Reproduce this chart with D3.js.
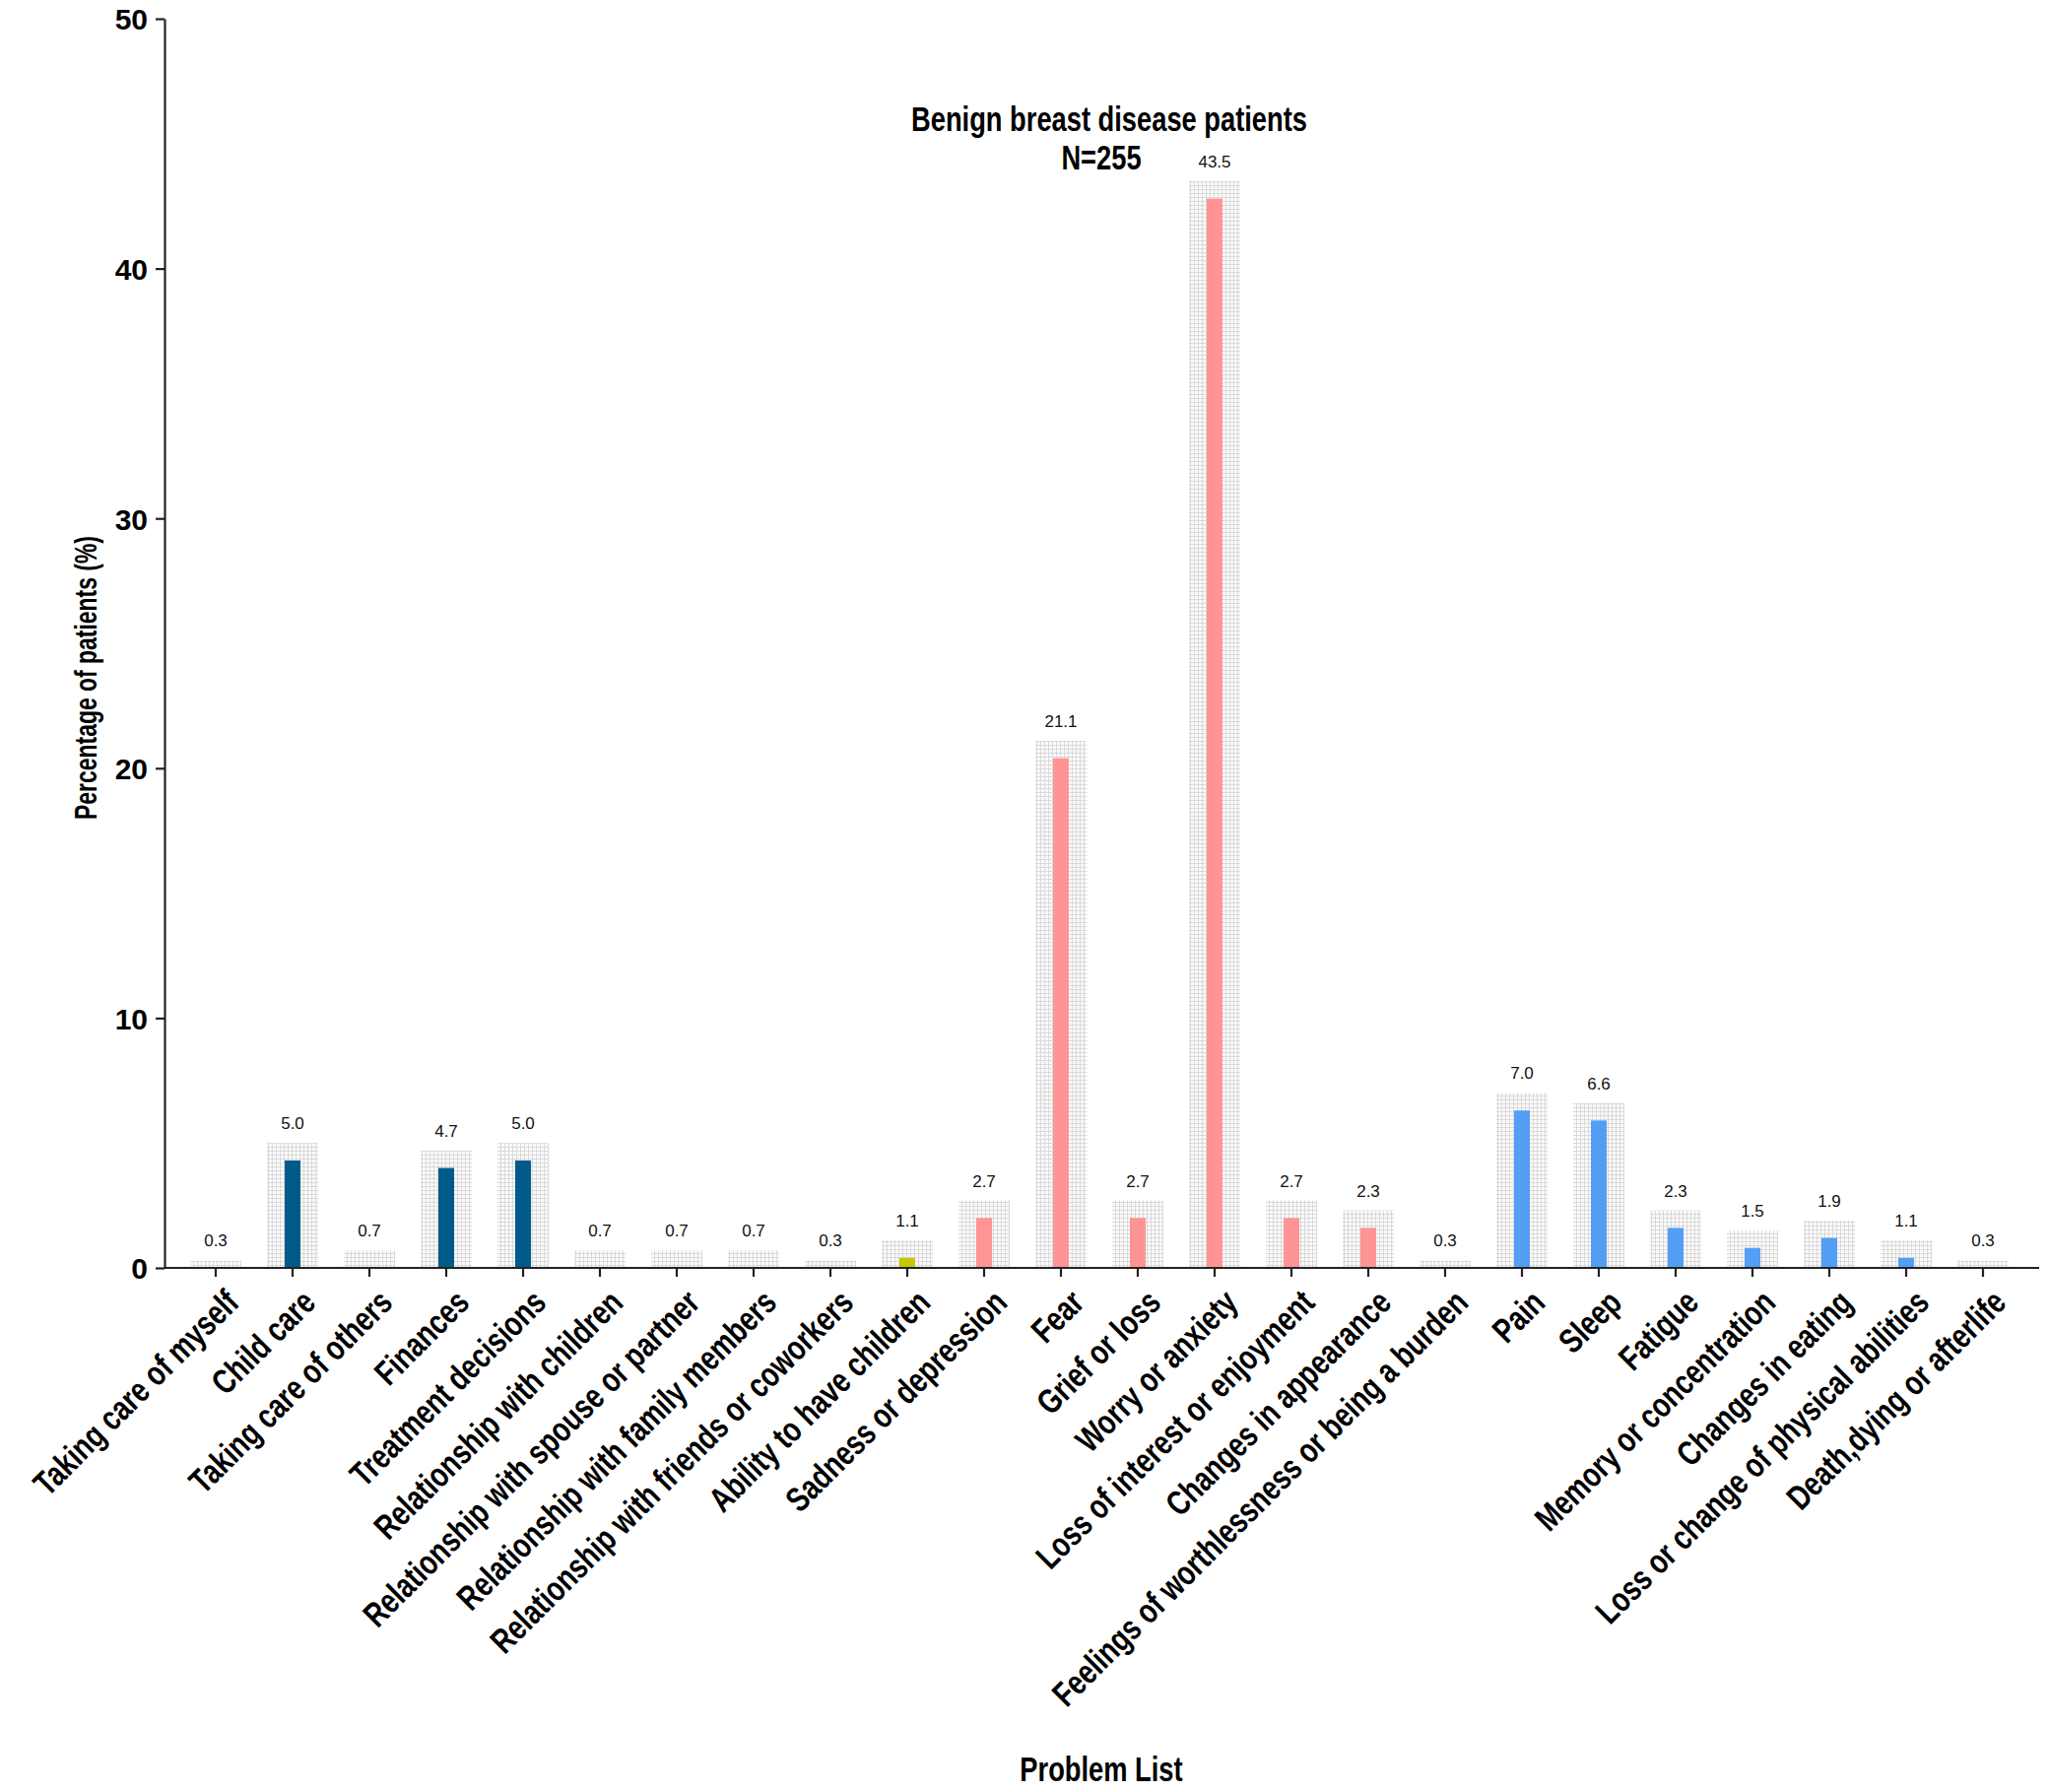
<!DOCTYPE html>
<html>
<head>
<meta charset="utf-8">
<script src="https://cdn.jsdelivr.net/npm/d3@7"></script>
<style>
  body { margin: 0; background: #fff; }
  .narrow { font-family: "Liberation Sans", Arial, sans-serif; font-weight: bold; }
</style>
</head>
<body>
<div id="chart"></div>
<script>
// problem list categories (x axis)
let categories = [
  'Taking care of myself', 'Child care', 'Taking care of others', 'Finances',
  'Treatment decisions', 'Relationship with children', 'Relationship with spouse or partner',
  'Relationship with family members', 'Relationship with friends or coworkers',
  'Ability to have children', 'Sadness or depression', 'Fear', 'Grief or loss',
  'Worry or anxiety', 'Loss of interest or enjoyment', 'Changes in appearance',
  'Feelings of worthlessness or being a burden', 'Pain', 'Sleep', 'Fatigue',
  'Memory or concentration', 'Changes in eating', 'Loss or change of physical abilities',
  'Death,dying or afterlife'
];

// labelled percentage (outer dotted bar)
let totalValues = [0.3, 5.0, 0.7, 4.7, 5.0, 0.7, 0.7, 0.7, 0.3, 1.1, 2.7, 21.1, 2.7,
  43.5, 2.7, 2.3, 0.3, 7.0, 6.6, 2.3, 1.5, 1.9, 1.1, 0.3];

// inner coloured bar
let innerValues = [0, 4.3, 0, 4.0, 4.3, 0, 0, 0, 0, 0.4, 2.0, 20.4, 2.0,
  42.8, 2.0, 1.6, 0, 6.3, 5.9, 1.6, 0.8, 1.2, 0.4, 0];

// problem group of each category
let groups = ['practical', 'practical', 'practical', 'practical', 'practical',
  'family', 'family', 'family', 'family', 'spiritual',
  'emotional', 'emotional', 'emotional', 'emotional', 'emotional', 'emotional', 'emotional',
  'physical', 'physical', 'physical', 'physical', 'physical', 'physical', 'physical'];

let yTicks = [0, 10, 20, 30, 40, 50];

let groupColor = {
  practical: '#005b8a',
  family: '#6a6a6a',
  spiritual: '#c8c800',
  emotional: '#ff9494',
  physical: '#529ff5'
};

let data = categories.map((c, i) => ({
  name: c, total: totalValues[i], inner: innerValues[i], group: groups[i]
}));

let svgWidth = 2079;
let svgHeight = 1819;
let squeeze = 0.78; // condensed look for the bold labels

let svg = d3.select('#chart').append('svg')
  .attr('width', svgWidth)
  .attr('height', svgHeight);

// dotted grid fill for the outer bars
let pattern = svg.append('defs').append('pattern')
  .attr('id', 'dots')
  .attr('width', 4)
  .attr('height', 4)
  .attr('patternUnits', 'userSpaceOnUse');
pattern.append('rect').attr('width', 4).attr('height', 4).attr('fill', '#fafafa');
pattern.append('path')
  .attr('d', 'M0,0.5H4M0.5,0V4')
  .attr('stroke', '#d9d9d9')
  .attr('stroke-width', 1);

let axisX = 167;
let baseY = 1287;

let x = d3.scaleBand()
  .domain(categories)
  .range([180, 180 + categories.length * 78]);

let y = d3.scaleLinear()
  .domain([0, 50])
  .range([baseY, 19]);

let outerW = 52;
let innerW = 16;

// outer bars
svg.append('g').selectAll('rect')
  .data(data)
  .enter()
  .append('rect')
  .attr('x', d => x(d.name) + x.bandwidth() / 2 - outerW / 2)
  .attr('y', d => y(d.total))
  .attr('width', outerW)
  .attr('height', d => y(0) - y(d.total))
  .attr('fill', 'url(#dots)');

// inner bars
svg.append('g').selectAll('rect')
  .data(data.filter(d => d.inner > 0))
  .enter()
  .append('rect')
  .attr('x', d => x(d.name) + x.bandwidth() / 2 - innerW / 2)
  .attr('y', d => y(d.inner))
  .attr('width', innerW)
  .attr('height', d => y(0) - y(d.inner))
  .attr('fill', d => groupColor[d.group]);

// value labels
svg.append('g').selectAll('text')
  .data(data)
  .enter()
  .append('text')
  .attr('x', d => x(d.name) + x.bandwidth() / 2)
  .attr('y', d => y(d.total) - 14)
  .attr('text-anchor', 'middle')
  .attr('font-family', 'Liberation Sans, Arial, sans-serif')
  .attr('font-size', '17px')
  .attr('fill', '#111')
  .text(d => d.total.toFixed(1));

// y axis
let yAxis = svg.append('g')
  .attr('transform', `translate(${axisX}, 0)`)
  .call(d3.axisLeft(y).tickValues(yTicks).tickSize(9).tickSizeOuter(0).tickPadding(8));
yAxis.select('.domain').attr('stroke', '#222').attr('stroke-width', 2.2);
yAxis.selectAll('.tick line').attr('stroke', '#222').attr('stroke-width', 2.2);
yAxis.selectAll('.tick text')
  .attr('font-family', 'Liberation Sans, Arial, sans-serif')
  .attr('font-weight', 'bold')
  .attr('font-size', '30px')
  .attr('fill', '#000')
  .attr('dy', '0.36em');

// x axis
let xAxis = svg.append('g')
  .attr('transform', `translate(0, ${baseY})`)
  .call(d3.axisBottom(x).tickSize(9).tickSizeOuter(0).tickFormat(''));
xAxis.select('.domain').remove();
xAxis.selectAll('.tick line').attr('stroke', '#222').attr('stroke-width', 2.2);
xAxis.append('line')
  .attr('x1', axisX)
  .attr('x2', 2070)
  .attr('stroke', '#222')
  .attr('stroke-width', 2.2);

// rotated category labels
svg.append('g').selectAll('text')
  .data(categories)
  .enter()
  .append('text')
  .attr('class', 'narrow')
  .attr('transform', d => `translate(${x(d) + x.bandwidth() / 2 + 8}, ${baseY + 20}) rotate(-45) scale(${squeeze}, 1)`)
  .attr('text-anchor', 'end')
  .attr('dy', '0.7em')
  .attr('font-size', '35px')
  .attr('fill', '#000')
  .text(d => d);

// centred condensed text helper
function addText(str, tx, ty, rot, size, sx) {
  svg.append('text')
    .attr('class', 'narrow')
    .attr('transform', `translate(${tx}, ${ty}) rotate(${rot}) scale(${sx}, 1)`)
    .attr('text-anchor', 'middle')
    .attr('font-size', size)
    .attr('fill', '#000')
    .text(str);
}

// axis titles
addText('Percentage of patients (%)', 98, 688, -90, '31px', 0.74);
addText('Problem List', 1118, 1808, 0, '35px', squeeze);

// chart title
addText('Benign breast disease patients', 1126, 133, 0, '35px', squeeze);
addText('N=255', 1118, 172, 0, '35px', squeeze);
</script>
</body>
</html>
